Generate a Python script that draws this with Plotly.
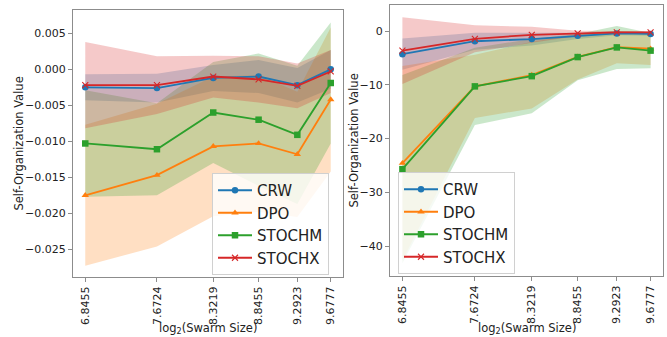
import plotly.graph_objects as go

# log2 of swarm sizes used as x positions and tick labels
x_vals = [6.8455, 7.6724, 8.3219, 8.8455, 9.2923, 9.6777]
x_ticktext = ["6.8455", "7.6724", "8.3219", "8.8455", "9.2923", "9.6777"]

methods = ["CRW", "DPO", "STOCHM", "STOCHX"]

# left panel: mean and standard deviation per method
left_crw = [-0.0025, -0.0026, -0.0012, -0.0010, -0.0022, 0.0000]
left_dpo = [-0.0175, -0.0147, -0.0107, -0.0103, -0.0118, -0.0042]
left_stochm = [-0.0103, -0.0111, -0.0060, -0.0070, -0.0091, -0.0019]
left_stochx = [-0.0022, -0.0022, -0.0010, -0.0014, -0.0023, -0.0003]

left_crw_std = [0.0018, 0.0020, 0.0018, 0.0023, 0.0024, 0.0027]
left_dpo_std = [0.0098, 0.0099, 0.0097, 0.0095, 0.0087, 0.0100]
left_stochm_std = [0.0074, 0.0064, 0.0070, 0.0092, 0.0096, 0.0084]
left_stochx_std = [0.0060, 0.0040, 0.0029, 0.0032, 0.0031, 0.0030]

# right panel: mean and standard deviation per method
right_crw = [-4.3, -1.9, -1.5, -0.9, -0.45, -0.55]
right_dpo = [-24.6, -10.3, -8.2, -4.8, -3.0, -3.3]
right_stochm = [-25.7, -10.3, -8.4, -4.85, -3.05, -3.65]
right_stochx = [-3.65, -1.45, -0.7, -0.45, -0.25, -0.25]

right_crw_std = [2.9, 1.6, 1.2, 0.6, 0.35, 0.35]
right_dpo_std = [18.1, 5.9, 6.2, 4.2, 3.0, 3.0]
right_stochm_std = [17.5, 7.2, 6.9, 4.3, 4.0, 3.3]
right_stochx_std = [6.2, 2.5, 1.5, 0.5, 0.25, 0.25]

left_yticks = [-0.025, -0.020, -0.015, -0.010, -0.005, 0.000, 0.005]
right_yticks = [-40, -30, -20, -10, 0]

colors = {"CRW": "#1f77b4", "DPO": "#ff7f0e", "STOCHM": "#2ca02c", "STOCHX": "#d62728"}
fills = {"CRW": "rgba(31,119,180,0.25)", "DPO": "rgba(255,127,14,0.25)",
         "STOCHM": "rgba(44,160,44,0.25)", "STOCHX": "rgba(214,39,40,0.25)"}
symbols = {"CRW": "circle", "DPO": "triangle-up", "STOCHM": "square", "STOCHX": "x-thin"}

panels = [
    ("x", "y", "legend", {"CRW": (left_crw, left_crw_std), "DPO": (left_dpo, left_dpo_std),
                          "STOCHM": (left_stochm, left_stochm_std), "STOCHX": (left_stochx, left_stochx_std)}),
    ("x2", "y2", "legend2", {"CRW": (right_crw, right_crw_std), "DPO": (right_dpo, right_dpo_std),
                             "STOCHM": (right_stochm, right_stochm_std), "STOCHX": (right_stochx, right_stochx_std)}),
]

fig = go.Figure()
FONT = "DejaVu Sans"

for xa, ya, leg, data in panels:
    # shaded mean +/- std bands
    for m in methods:
        mean, std = data[m]
        hi = [a + b for a, b in zip(mean, std)]
        lo = [a - b for a, b in zip(mean, std)]
        fig.add_trace(go.Scatter(
            x=x_vals + x_vals[::-1], y=hi + lo[::-1], fill="toself",
            fillcolor=fills[m], line=dict(width=0), mode="lines",
            hoverinfo="skip", showlegend=False, xaxis=xa, yaxis=ya))
    # mean lines with markers
    for m in methods:
        mean, _ = data[m]
        mk = dict(symbol=symbols[m], size=6.5, color=colors[m])
        if m == "STOCHX":
            mk = dict(symbol="x-thin", size=6, color=colors[m], line=dict(width=1.1, color=colors[m]))
        fig.add_trace(go.Scatter(
            x=x_vals, y=mean, mode="lines+markers", name=m,
            line=dict(color=colors[m], width=1.8), marker=mk,
            xaxis=xa, yaxis=ya, legend=leg))

W, H = 667, 337
spine = "#8c8c8c"
common_x = dict(tickmode="array", tickvals=x_vals, ticktext=x_ticktext, tickangle=-90,
                range=[6.7039, 9.8193], showline=True, linecolor=spine, linewidth=1.2, mirror=True,
                ticks="outside", ticklen=4, tickcolor=spine, showgrid=False, zeroline=False,
                automargin=False, tickfont=dict(family=FONT, size=11, color="#222222"))
common_y = dict(showline=True, linecolor=spine, linewidth=1.2, mirror=True,
                ticks="outside", ticklen=4, tickcolor=spine, showgrid=False, zeroline=False,
                automargin=False, tickfont=dict(family=FONT, size=11, color="#222222"))

fig.update_layout(
    width=W, height=H, margin=dict(l=0, r=0, t=0, b=0),
    paper_bgcolor="white", plot_bgcolor="white",
    font=dict(family=FONT, color="#222222"),
    xaxis=dict(domain=[73 / W, 343 / W], anchor="y", **common_x),
    yaxis=dict(domain=[1 - 277 / H, 1 - 10 / H], anchor="x", range=[-0.02885, 0.00824],
               tickmode="array", tickvals=left_yticks, tickformat=".3f", **common_y),
    xaxis2=dict(domain=[390 / W, 663 / W], anchor="y2", **common_x),
    yaxis2=dict(domain=[1 - 276 / H, 1 - 5 / H], anchor="x2", range=[-45.58, 4.84],
                tickmode="array", tickvals=right_yticks, tickformat="d", **common_y),
    legend=dict(x=212 / W, y=1 - 173 / H, xanchor="left", yanchor="top", itemwidth=34,
                bgcolor="rgba(255,255,255,0.8)", bordercolor="#d0d0d0", borderwidth=1,
                font=dict(family=FONT, size=15, color="#222222")),
    legend2=dict(x=398 / W, y=1 - 172 / H, xanchor="left", yanchor="top", itemwidth=34,
                 bgcolor="rgba(255,255,255,0.8)", bordercolor="#d0d0d0", borderwidth=1,
                 font=dict(family=FONT, size=15, color="#222222")),
)

title_font = dict(family=FONT, size=11.5, color="#222222")
for xc, yc, txt, ang in [
    (18, 143.5, "Self-Organization Value", -90),
    (353, 140.5, "Self-Organization Value", -90),
    (208, 328, "log<sub>2</sub>(Swarm Size)", 0),
    (526.5, 328, "log<sub>2</sub>(Swarm Size)", 0),
]:
    fig.add_annotation(x=xc / W, y=1 - yc / H, xref="paper", yref="paper", text=txt,
                       textangle=ang, showarrow=False, font=title_font,
                       xanchor="center", yanchor="middle")

fig.write_html("out.html")
